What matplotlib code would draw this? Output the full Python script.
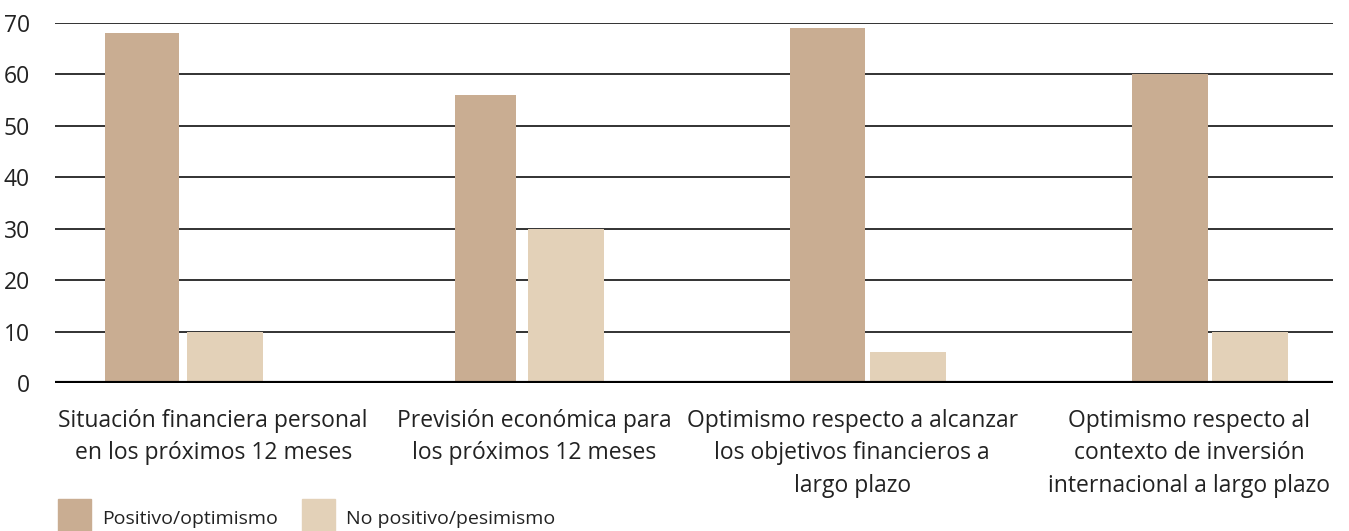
import numpy as np
import matplotlib.pyplot as plt
from matplotlib.patches import Rectangle

plt.rcParams['font.family'] = ['Open Sans', 'DejaVu Sans']

categories = ["Situación financiera personal\nen los próximos 12 meses",
              "Previsión económica para\nlos próximos 12 meses",
              "Optimismo respecto a alcanzar\nlos objetivos financieros a\nlargo plazo",
              "Optimismo respecto al\ncontexto de inversión\ninternacional a largo plazo"]
positivo = [68, 56, 69, 60]
no_positivo = [10, 30, 6, 10]
series_names = ["Positivo/optimismo", "No positivo/pesimismo"]

col_pos = "#C9AD92"
col_neg = "#E3D1B8"

# bar placement in category units (bars sit a bit off the label centres)
pos_x = [0.272, 1.347, 2.418, 3.490]
neg_x = [0.532, 1.599, 2.670, 3.740]
pos_w = [0.232, 0.191, 0.235, 0.238]
neg_w = [0.238, 0.238, 0.238, 0.238]
label_x = [0.495, 1.5, 2.495, 3.55]

fig = plt.figure(figsize=(13.49, 5.31), dpi=100)
ax = fig.add_axes([55/1349, 1-383/531, 1278/1349, 360/531])

ax.bar(pos_x, positivo, width=pos_w, color=col_pos, zorder=3)
ax.bar(neg_x, no_positivo, width=neg_w, color=col_neg, zorder=3)

ax.set_xlim(0, 4)
ax.set_ylim(0, 70)
ax.set_yticks(np.arange(0, 71, 10))
ax.yaxis.grid(True, color="#222222", lw=1.3, zorder=1)
ax.axhline(0, color="black", lw=3, zorder=4)
for s in ax.spines.values():
    s.set_visible(False)
ax.tick_params(axis='y', length=0, pad=18, labelsize=16.5, labelcolor="#222222")
ax.tick_params(axis='x', length=0, pad=19)
ax.set_xticks(label_x)
ax.set_xticklabels(categories, fontsize=16.5, color="#222222", linespacing=1.45)

# legend
for i, (name, c) in enumerate(zip(series_names, [col_pos, col_neg])):
    x0 = [58, 302][i]
    fig.patches.append(Rectangle((x0/1349, 0), 33/1349, 32/531, transform=fig.transFigure,
                                 color=c, figure=fig))
    fig.text((x0 + 44)/1349, 12/531, name, fontsize=14, color="#222222", va='center')

fig.savefig("out.png", dpi=100)
